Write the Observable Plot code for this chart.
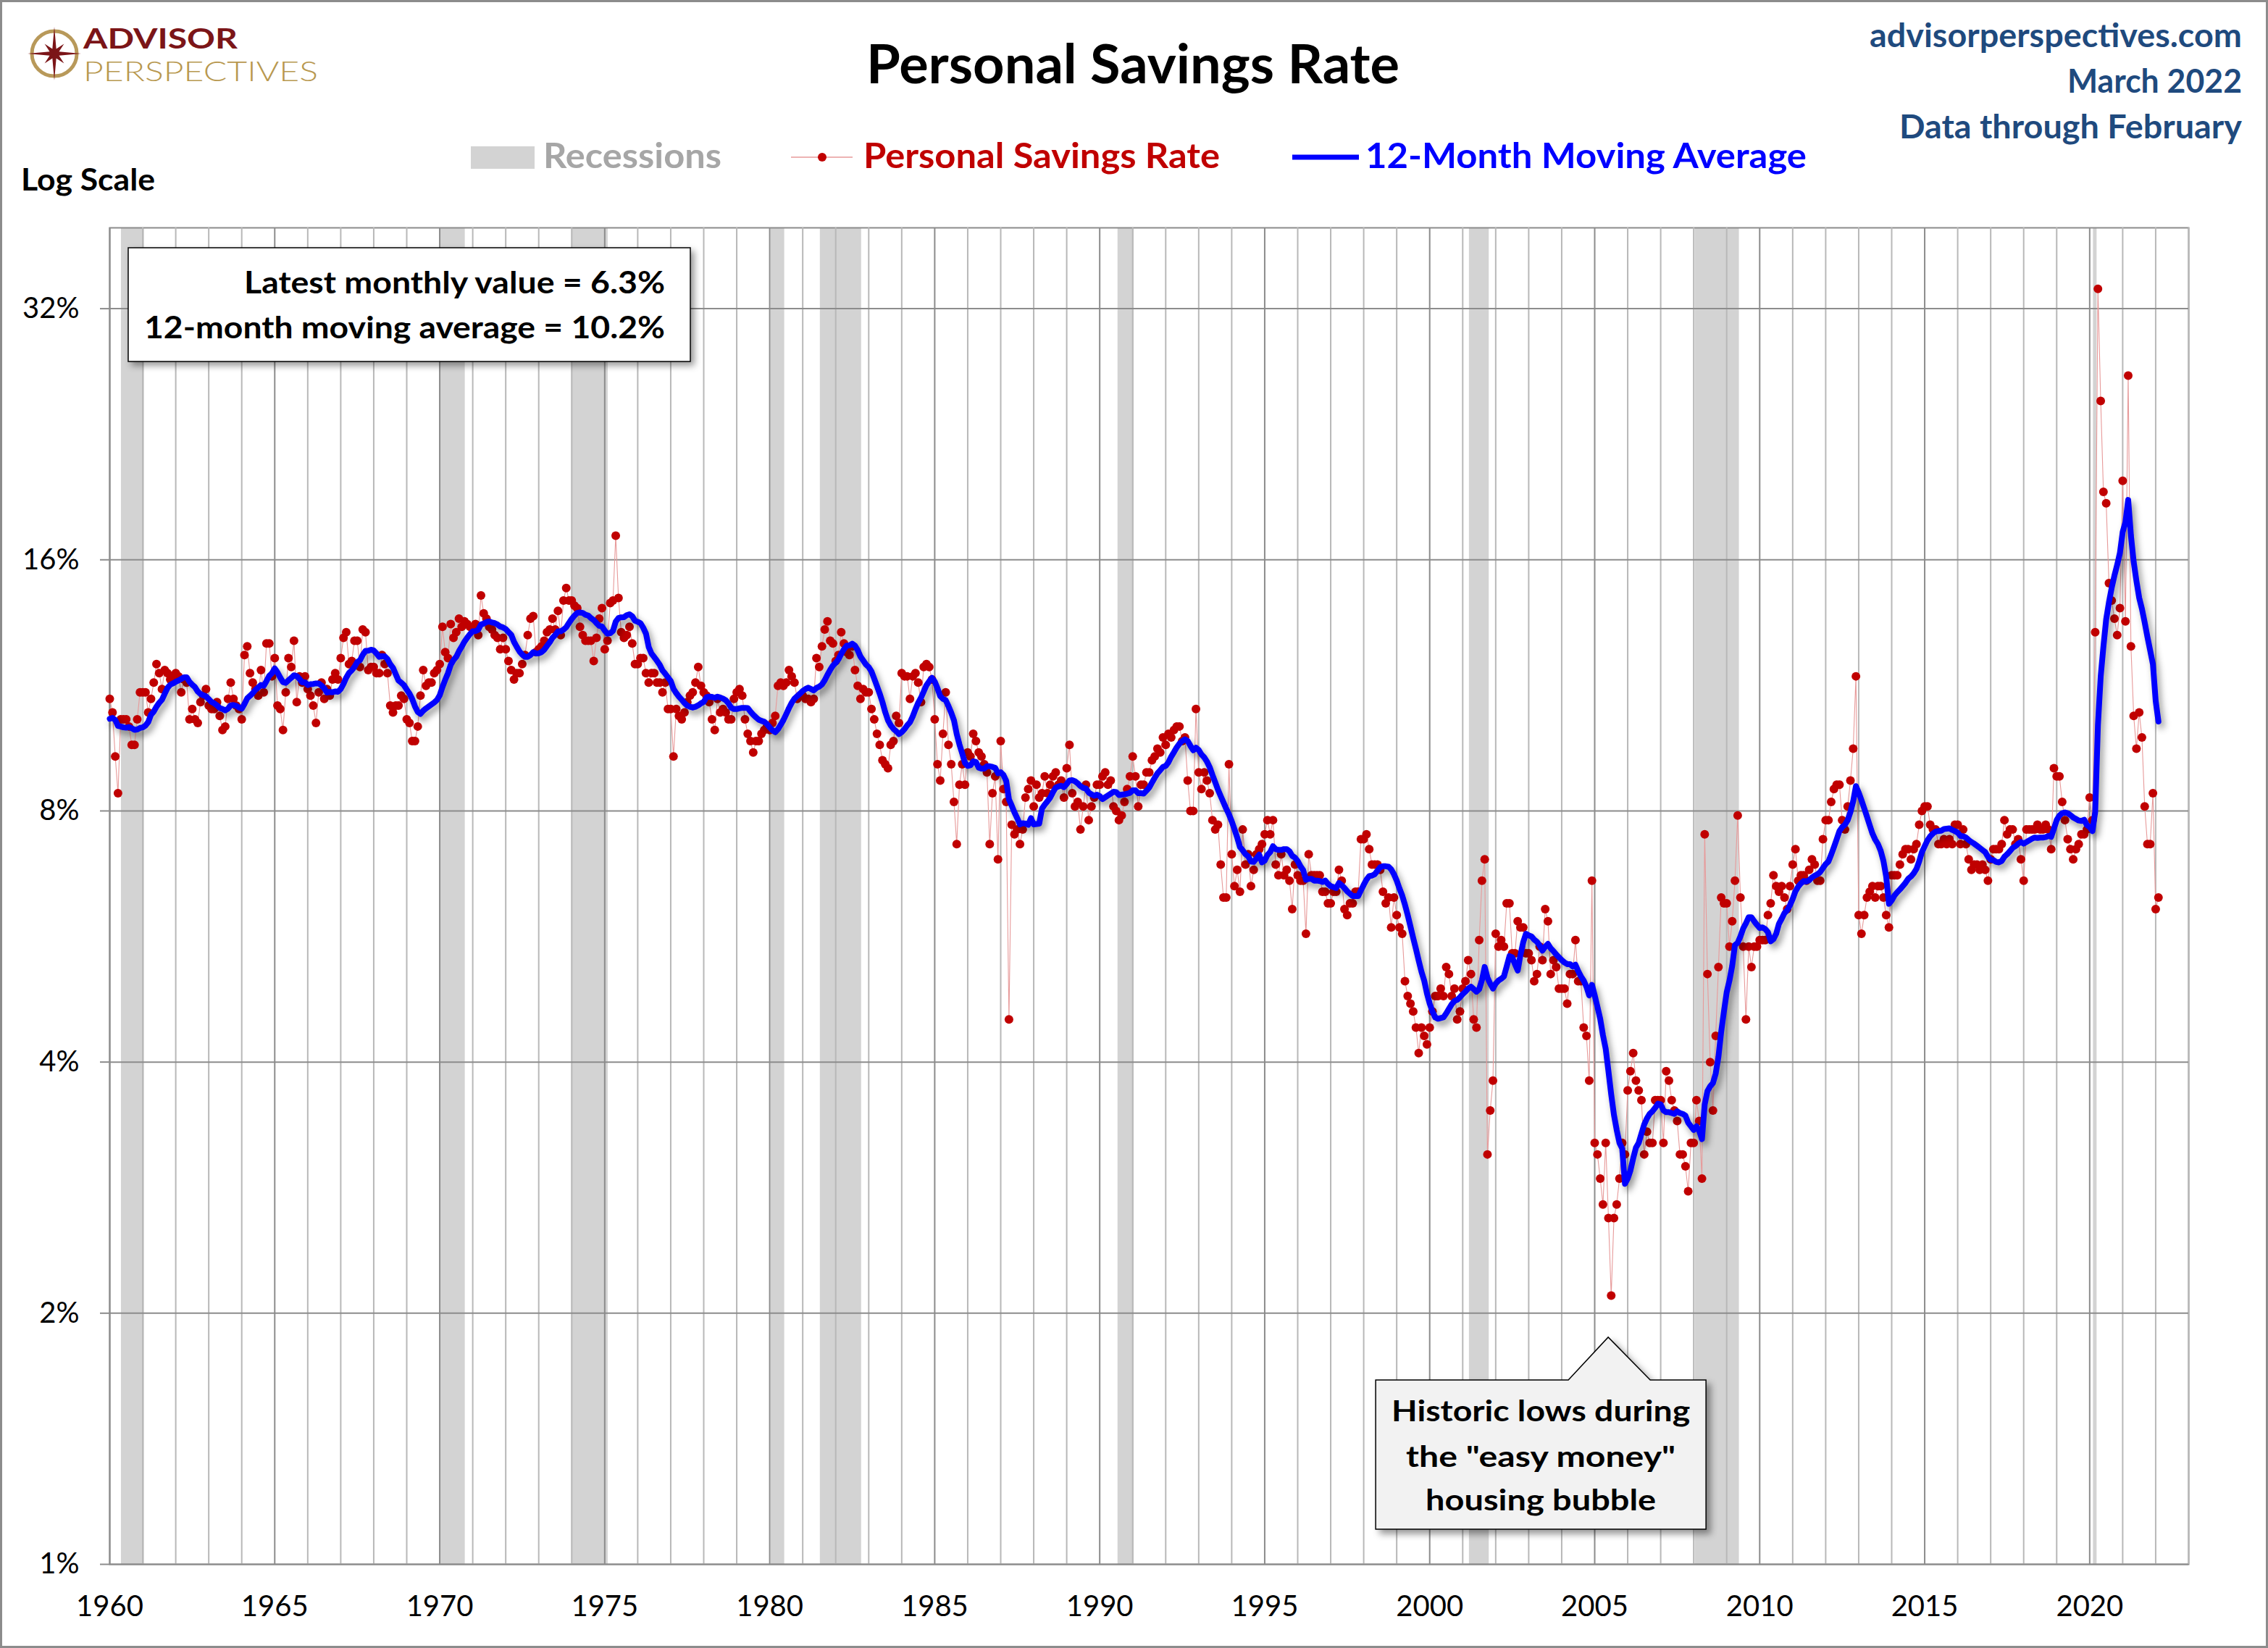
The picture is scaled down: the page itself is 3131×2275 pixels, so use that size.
<!DOCTYPE html>
<html>
<head>
<meta charset="utf-8">
<script src="https://cdn.jsdelivr.net/npm/d3@7"></script>
<script src="https://cdn.jsdelivr.net/npm/@observablehq/plot@0.6"></script>
<style>
  html, body { margin: 0; padding: 0; background: #fff; overflow: hidden; }
  #chart { position: relative; width: 3131px; height: 2275px; }
</style>
</head>
<body>
<div id="chart"></div>
<script>
// ---------------- DATA (monthly personal savings rate, %) ----------------
const startYear = 1959; // first month of the series = Jan 1959 (used only to seed the moving average)

const rate1959 = [10.8,10.2,10.0,10.4,10.5,10.6,10.4,9.9,10.0,10.1,10.2,10.6];

const rate1960s = [
  10.9,10.5,9.3,8.4,10.3,10.3,10.3,10.1,9.6,9.6,10.3,11.1,      // 1960
  11.1,11.1,10.5,10.9,11.4,12.0,11.7,11.2,11.8,11.7,11.5,11.6,  // 1961
  11.7,11.6,11.1,11.5,11.4,10.3,10.6,10.3,10.2,10.8,11.0,11.2,  // 1962
  10.7,10.6,10.6,10.8,10.4,10.0,10.1,10.9,11.4,10.9,10.7,10.6,  // 1963
  10.3,12.3,12.6,11.7,11.4,11.2,11.0,11.8,11.1,12.7,12.7,11.6,  // 1964
  12.2,10.7,10.6,10.0,11.1,12.2,11.9,12.8,10.8,11.6,11.4,11.6,  // 1965
  11.2,11.0,10.7,10.2,11.1,11.4,10.9,11.2,11.0,11.5,11.7,11.5,  // 1966
  12.2,12.9,13.1,12.0,12.1,12.8,12.8,11.9,13.2,13.1,11.8,11.9,  // 1967
  11.9,11.7,11.7,12.3,12.0,11.7,10.7,10.5,10.7,10.7,11.0,10.9,  // 1968
  10.3,10.2,9.7,9.7,10.1,11.0,11.8,11.3,11.4,11.4,11.7,11.8     // 1969
];

const rate1970s = [
  12.0,13.3,12.4,12.2,13.4,12.9,13.1,13.6,13.3,13.5,13.4,13.3,  // 1970
  13.2,13.4,13.0,14.5,13.8,13.6,13.3,13.2,13.0,12.9,12.5,12.9,  // 1971
  12.5,12.1,11.8,11.5,11.7,11.7,12.0,12.3,13.0,13.6,13.7,12.4,  // 1972
  12.5,12.6,12.8,13.1,13.2,13.6,13.2,13.9,13.0,14.3,14.8,14.3,  // 1973
  14.3,14.1,14.0,13.3,13.0,12.8,12.8,12.8,12.1,12.9,13.6,14.0,  // 1974
  12.5,12.8,14.2,14.3,17.1,14.4,13.1,12.9,13.0,13.3,12.7,12.0,  // 1975
  12.0,12.2,12.2,11.7,11.4,11.7,11.7,11.4,11.4,11.1,11.4,10.6,  // 1976
  10.6,9.3,10.6,10.4,10.3,10.5,10.8,11.0,11.1,11.4,11.9,11.3,   // 1977
  11.1,11.0,10.8,10.3,10.0,10.9,10.5,10.6,10.5,10.3,10.3,10.9,  // 1978
  11.1,11.2,11.0,10.3,9.9,9.7,9.4,9.7,9.7,9.9,10.0,10.1         // 1979
];

const rate1980s = [
  10.0,10.2,10.4,11.3,11.4,11.3,11.4,11.8,11.6,11.4,10.9,11.0,  // 1980
  11.0,10.9,10.9,10.8,10.9,12.2,11.9,12.6,13.2,13.5,12.8,12.7,  // 1981
  12.1,12.3,13.1,12.7,12.4,12.3,12.6,11.8,11.3,10.9,11.2,11.1,  // 1982
  11.1,10.6,10.3,9.9,9.6,9.2,9.1,9.0,9.6,9.7,10.4,10.2,         // 1983
  11.7,11.6,11.6,10.9,11.6,11.7,11.4,10.8,11.9,12.0,11.9,11.5,  // 1984
  10.3,9.1,8.7,9.9,11.1,9.6,9.1,8.2,7.3,8.6,9.1,8.6,            // 1985
  9.4,9.3,9.9,9.7,9.4,9.3,9.1,8.9,7.3,8.4,8.8,7.0,              // 1986
  9.7,8.5,8.2,4.5,7.7,7.5,7.6,7.3,7.6,8.3,8.5,8.7,              // 1987
  8.1,8.6,8.3,8.4,8.8,8.4,8.6,8.8,8.9,8.6,8.7,8.3,              // 1988
  9.0,9.6,8.4,8.1,8.2,7.6,8.1,8.6,7.8,8.1,8.3,8.6               // 1989
];

const rate1990s = [
  8.6,8.8,8.9,8.6,8.7,8.1,8.0,7.8,7.9,8.2,8.5,8.8,              // 1990
  9.3,8.8,8.1,8.6,8.6,8.9,8.9,9.2,9.3,9.5,9.4,9.8,              // 1991
  9.6,9.9,9.8,10.0,10.1,10.1,9.7,9.8,8.7,8.0,8.0,10.6,          // 1992
  8.9,8.5,8.9,8.7,8.4,7.8,7.6,7.7,6.9,6.3,6.3,9.1,              // 1993
  7.1,6.5,6.8,6.4,7.6,6.9,7.1,6.5,6.8,7.1,7.2,7.3,              // 1994
  7.5,7.8,7.5,7.8,6.9,6.7,7.1,6.7,6.8,6.6,6.1,6.9,              // 1995
  6.7,6.6,6.6,5.7,7.1,6.7,6.7,6.7,6.7,6.4,6.4,6.2,              // 1996
  6.2,6.4,6.4,6.8,6.6,6.1,6.0,6.2,6.2,6.4,6.4,7.4,              // 1997
  7.4,7.5,7.2,6.9,6.9,6.9,6.8,6.4,6.2,6.3,5.8,6.3,              // 1998
  6.0,5.8,5.7,5.0,4.8,4.7,4.6,4.4,4.1,4.4,4.3,4.2               // 1999
];

const rate2000s = [
  4.4,4.6,4.8,4.8,4.9,4.8,5.2,5.1,4.8,4.9,4.5,4.6,              // 2000
  4.9,5.0,5.3,5.1,4.5,4.4,5.6,6.6,7.0,3.1,3.5,3.8,              // 2001
  5.7,5.5,5.6,5.5,6.2,6.2,5.4,5.4,5.9,5.8,5.8,5.4,              // 2002
  5.4,5.3,5.0,5.1,5.5,5.3,6.1,5.9,5.1,5.3,5.2,4.9,              // 2003
  4.9,4.9,4.7,5.1,5.1,5.6,5.0,5.0,4.4,4.3,3.8,6.6,              // 2004
  3.2,3.1,2.9,2.7,3.2,2.6,2.1,2.6,2.7,2.9,3.2,3.1,              // 2005
  3.7,3.9,4.1,3.8,3.7,3.6,3.1,3.3,3.2,3.2,3.6,3.6,              // 2006
  3.6,3.2,3.9,3.8,3.6,3.5,3.4,3.1,3.1,3.0,2.8,3.2,              // 2007
  3.2,3.6,3.4,2.9,7.5,5.1,4.0,3.5,4.3,5.2,6.3,6.2,              // 2008
  6.2,5.5,5.9,6.6,7.9,6.3,5.5,4.5,5.5,5.2,5.5,5.5               // 2009
];

const rate2010s = [
  5.6,5.6,5.6,6.0,6.2,6.7,6.5,6.4,6.5,6.3,6.1,6.5,              // 2010
  6.9,7.2,6.6,6.7,6.7,6.6,6.8,7.0,6.9,6.6,6.6,7.4,              // 2011
  7.8,7.8,8.2,8.5,8.6,8.6,7.8,7.6,8.1,8.7,9.5,11.6,             // 2012
  6.0,5.7,6.0,6.3,6.4,6.5,6.3,6.5,6.5,6.3,6.0,5.8,              // 2013
  6.7,6.7,6.7,6.9,7.1,7.2,7.2,7.0,7.2,7.3,7.7,8.0,              // 2014
  8.1,8.1,7.7,7.6,7.6,7.3,7.3,7.4,7.3,7.4,7.3,7.7,              // 2015
  7.7,7.3,7.6,7.3,7.0,6.8,6.9,6.9,6.8,6.9,6.8,6.6,              // 2016
  7.0,7.2,7.2,7.2,7.3,7.8,7.5,7.6,7.6,7.3,7.4,7.0,              // 2017
  6.6,7.6,7.6,7.6,7.6,7.7,7.6,7.6,7.7,7.6,7.2,9.0,              // 2018
  8.8,8.8,8.2,7.8,7.4,7.2,7.0,7.2,7.3,7.5,7.5,7.6               // 2019
];

const rate2020s = [
  8.3,7.8,13.1,33.8,24.8,19.3,18.7,15.0,14.3,13.6,13.0,14.0,    // 2020
  19.9,13.5,26.6,12.6,10.4,9.5,10.5,9.8,8.1,7.3,7.3,8.4,        // 2021
  6.1,6.3                                                       // 2022 (Jan-Feb)
];

// Recession bands (decimal years)
const recessionStart = [1960.35, 1970.0, 1974.0, 1980.04, 1981.53, 1990.55, 2001.2, 2008.04, 2020.11];
const recessionEnd   = [1961.05, 1970.77, 1975.1, 1980.45, 1982.78, 1991.04, 2001.8, 2009.38, 2020.22];

// Axis ticks
const xTickYears = [1960, 1965, 1970, 1975, 1980, 1985, 1990, 1995, 2000, 2005, 2010, 2015, 2020];
const yTickValues = [1, 2, 4, 8, 16, 32];
const yTickLabels = ["1%", "2%", "4%", "8%", "16%", "32%"];
const xDomain = [1960, 2023];
const yDomain = [1, 40];

// ---------------- DERIVED ----------------
const monthly = [].concat(rate1959, rate1960s, rate1970s, rate1980s, rate1990s, rate2000s, rate2010s, rate2020s);
const series = monthly.map((v, i) => ({date: startYear + i / 12, rate: v}));
const points = series.filter(d => d.date >= 1960);
const movingAvg = series
  .map((d, i) => i >= 11 ? {date: d.date, ma: d3.mean(series.slice(i - 11, i + 1), e => e.rate)} : null)
  .filter(d => d && d.date >= 1960);
const recessions = recessionStart.map((s, i) => ({start: s, end: recessionEnd[i]}));
const yLabels = yTickValues.map((v, i) => ({value: v, label: yTickLabels[i]}));
const gridYears = d3.range(xDomain[0], xDomain[1] + 1);
const minorYears = gridYears.filter(y => y % 5 !== 0);
const majorYears = gridYears.filter(y => y % 5 === 0);
const latest = points[points.length - 1].rate;
const latestAvg = movingAvg[movingAvg.length - 1].ma;

// ---------------- PLOT ----------------
const W = 3131, H = 2275;
const plot = Plot.plot({
  width: W,
  height: H,
  marginLeft: 151,
  marginRight: 110,
  marginTop: 314,
  marginBottom: 116,
  style: {fontFamily: "Lato, sans-serif", fontSize: "40px", color: "#000", background: "transparent"},
  x: {domain: xDomain, ticks: xTickYears, tickFormat: d => String(d), tickSize: 0, tickPadding: 43, label: null},
  y: {type: "log", domain: yDomain, ticks: yTickValues, tickFormat: () => "", tickSize: 13, tickPadding: 29, label: null},
  marks: [
    Plot.rect(recessions, {x1: "start", x2: "end", y1: yDomain[0], y2: yDomain[1], fill: "#d3d3d3"}),
    Plot.frame({stroke: "#8c8c8c", strokeWidth: 2}),
    Plot.ruleX(minorYears, {stroke: "#b8b8b8", strokeWidth: 2}),
    Plot.ruleX(majorYears, {stroke: "#8c8c8c", strokeWidth: 2}),
    Plot.ruleY(yTickValues, {stroke: "#8c8c8c", strokeWidth: 2}),
    Plot.text(yLabels, {y: "value", text: "label", frameAnchor: "left", textAnchor: "end", lineAnchor: "middle", dx: -42, fontSize: 40, fill: "#000"}),
    Plot.line(points, {x: "date", y: "rate", stroke: "#e79a9a", strokeWidth: 1.1}),
    Plot.dot(points, {x: "date", y: "rate", r: 6, fill: "#c00000"}),
    Plot.line(movingAvg, {x: "date", y: "ma", stroke: "#0000ff", strokeWidth: 8, strokeLinejoin: "round", strokeLinecap: "round"})
  ]
});
document.getElementById("chart").appendChild(plot);

const svg = d3.select(plot);
// drop shadow under the moving-average line
const lines = svg.selectAll('g[aria-label="line"]').nodes();
if (lines.length) d3.select(lines[lines.length - 1]).style("filter", "drop-shadow(4px 6px 5px rgba(0,0,0,0.42))");
// y tick marks in grey
svg.selectAll('g[aria-label="y-axis tick"]').attr("stroke", "#8c8c8c").attr("stroke-width", 2);
svg.selectAll('g[aria-label="y-axis"] .tick line').attr("stroke", "#8c8c8c").attr("stroke-width", 2);
svg.selectAll('g[aria-label="y-axis tick label"]').remove();

// ---------------- OVERLAY (titles, legend, notes) ----------------
const sx = plot.scale("x"), sy = plot.scale("y");
const ov = svg.append("g").attr("font-family", "Lato, sans-serif");

function addText(g, str, x, y, size, width, fill = "#000", weight = 700) {
  return g.append("text")
    .attr("x", x).attr("y", y)
    .attr("text-anchor", "start")
    .attr("font-size", size).attr("font-weight", weight).attr("fill", fill)
    .attr("textLength", width).attr("lengthAdjust", "spacingAndGlyphs")
    .text(str);
}

// Logo
const logo = ov.append("g");
logo.append("circle").attr("cx", 75).attr("cy", 74).attr("r", 31)
  .attr("fill", "none").attr("stroke", "#b8995a").attr("stroke-width", 5);
const starPts = [];
for (let k = 0; k < 16; k++) {
  const a = -Math.PI / 2 + k * Math.PI / 8;
  const r = k % 4 === 0 ? 37 : (k % 2 === 0 ? 19 : 7);
  starPts.push([75 + r * Math.cos(a), 74 + r * Math.sin(a)]);
}
logo.append("path").attr("d", "M" + starPts.map(p => p.join(",")).join("L") + "Z").attr("fill", "#7b1518");
addText(logo, "ADVISOR", 115, 67, 39, 213, "#7b1518", 700);
addText(logo, "PERSPECTIVES", 115, 112, 37, 324, "#b8984f", 300);

// Title
addText(ov, "Personal Savings Rate", 1196, 115, 74, 736, "#000");

// Top-right notes
const noteColor = "#1f4a7e";
addText(ov, "advisorperspectives.com", 3095 - 514, 65, 45, 514, noteColor);
addText(ov, "March 2022", 3095 - 241, 128, 45, 241, noteColor);
addText(ov, "Data through February", 3095 - 473, 191, 46, 473, noteColor);

// Legend
ov.append("rect").attr("x", 650).attr("y", 202).attr("width", 88).attr("height", 31).attr("fill", "#d3d3d3");
addText(ov, "Recessions", 750, 232, 47, 246, "#a6a6a6");
ov.append("line").attr("x1", 1092).attr("x2", 1177).attr("y1", 217).attr("y2", 217)
  .attr("stroke", "#e79a9a").attr("stroke-width", 1.5);
ov.append("circle").attr("cx", 1135).attr("cy", 217).attr("r", 6).attr("fill", "#c00000");
addText(ov, "Personal Savings Rate", 1192, 232, 47, 492, "#c00000");
ov.append("line").attr("x1", 1784).attr("x2", 1876).attr("y1", 217).attr("y2", 217)
  .attr("stroke", "#0000ff").attr("stroke-width", 7);
addText(ov, "12-Month Moving Average", 1885, 232, 47, 609, "#0000ff");

// Log scale label
addText(ov, "Log Scale", 29, 263, 42, 185, "#000");

// Info box
const info = ov.append("g");
info.append("rect").attr("x", 177).attr("y", 342).attr("width", 776).attr("height", 157)
  .attr("fill", "#fff").attr("stroke", "#000").attr("stroke-width", 1.5)
  .style("filter", "drop-shadow(5px 5px 5px rgba(0,0,0,0.4))");
addText(info, `Latest monthly value = ${latest.toFixed(1)}%`, 918 - 581, 405, 42, 581);
addText(info, `12-month moving average = ${latestAvg.toFixed(1)}%`, 918 - 719, 467, 42, 719);

// Callout pointing at the housing-bubble lows
const tipX = sx.apply(2005.42), tipY = sy.apply(1.87);
const bx0 = tipX - 321, bx1 = tipX + 135, by0 = tipY + 59, by1 = tipY + 265;
const call = ov.append("g");
call.append("path")
  .attr("d", `M${bx0},${by0}L${tipX - 55},${by0}L${tipX},${tipY}L${tipX + 58},${by0}L${bx1},${by0}L${bx1},${by1}L${bx0},${by1}Z`)
  .attr("fill", "#f2f2f2").attr("stroke", "#000").attr("stroke-width", 1.5)
  .style("filter", "drop-shadow(6px 6px 5px rgba(0,0,0,0.4))");
const cc = (bx0 + bx1) / 2;
addText(call, "Historic lows during", cc - 206, tipY + 116, 41, 412);
addText(call, 'the "easy money"', cc - 186, tipY + 179, 41, 372);
addText(call, "housing bubble", cc - 159, tipY + 239, 41, 318);

// Outer border
ov.append("rect").attr("x", 1.5).attr("y", 1.5).attr("width", W - 3).attr("height", H - 3)
  .attr("fill", "none").attr("stroke", "#8c8c8c").attr("stroke-width", 3);
</script>
</body>
</html>
